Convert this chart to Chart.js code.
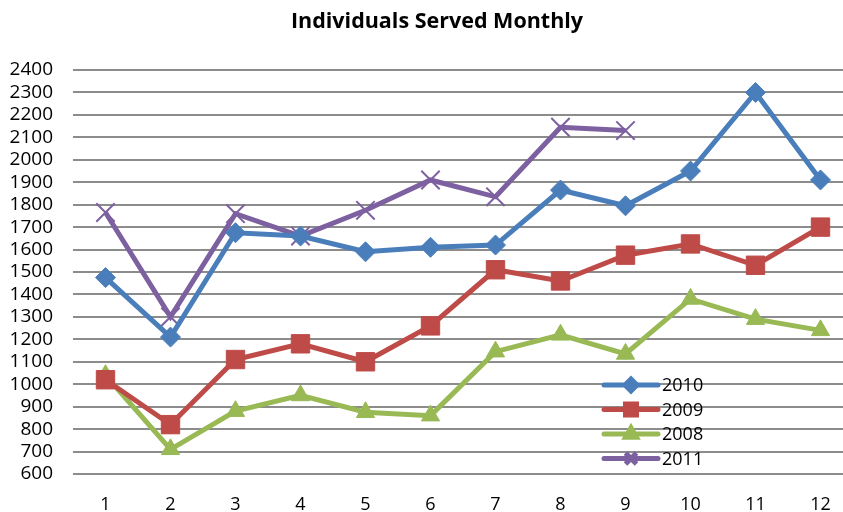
<!DOCTYPE html>
<html>
<head>
<meta charset="utf-8">
<script src="https://cdn.jsdelivr.net/npm/chart.js@4.4.1/dist/chart.umd.min.js"></script>
<style>
  html, body { margin: 0; padding: 0; background: #fff; overflow: hidden; }
  #wrap { width: 843px; height: 512px; overflow: hidden; }
  canvas { display: block; }
</style>
</head>
<body>
<div id="wrap"><canvas id="chart" width="853" height="512"></canvas></div>
<script>
const chartTitle = 'Individuals Served Monthly';
const months = ['1', '2', '3', '4', '5', '6', '7', '8', '9', '10', '11', '12'];
const served2010 = [1475, 1210, 1675, 1660, 1590, 1610, 1620, 1865, 1795, 1950, 2300, 1910];
const served2009 = [1020, 820, 1110, 1180, 1100, 1260, 1510, 1460, 1575, 1625, 1530, 1700];
const served2008 = [1040, 710, 880, 950, 875, 860, 1145, 1220, 1135, 1380, 1290, 1240];
const served2011 = [1765, 1300, 1760, 1660, 1775, 1910, 1835, 2145, 2130, null, null, null];

const FONT = "'Open Sans', 'Liberation Sans', sans-serif";

function series(label, data, color, style, radius) {
    return {
        label: label,
        data: data,
        borderColor: color,
        backgroundColor: color,
        borderWidth: 5,
        pointStyle: style,
        pointRadius: radius,
        pointBorderWidth: style === 'crossRot' ? 2 : 1,
        pointBorderColor: color,
        pointBackgroundColor: color,
        spanGaps: false,
        tension: 0
    };
}

// Title is centred over the visible page, not the (wider) canvas
const pageTitle = {
    id: 'pageTitle',
    afterDraw(chart) {
        const ctx = chart.ctx;
        ctx.save();
        ctx.fillStyle = '#000';
        ctx.font = 'bold 21.5px ' + FONT;
        ctx.textAlign = 'center';
        ctx.textBaseline = 'middle';
        ctx.fillText(chartTitle, 437, 22);
        ctx.restore();
    }
};

// Legend sits inside the plot, lower right
const insideLegend = {
    id: 'insideLegend',
    afterDraw(chart) {
        const ctx = chart.ctx;
        const x0 = 604, x1 = 658;
        const top = 385, step = 24.5;
        chart.data.datasets.forEach((ds, i) => {
            const y = top + i * step;
            ctx.save();
            ctx.strokeStyle = ds.borderColor;
            ctx.fillStyle = ds.borderColor;
            ctx.lineWidth = 5;
            ctx.lineCap = 'round';
            ctx.beginPath();
            ctx.moveTo(x0, y);
            ctx.lineTo(x1, y);
            ctx.stroke();
            ctx.lineCap = 'butt';
            Chart.helpers.drawPoint(ctx, {
                pointStyle: ds.pointStyle,
                radius: ds.pointRadius * 0.6,
                borderWidth: ds.pointBorderWidth
            }, (x0 + x1) / 2, y);
            ctx.fillStyle = '#000';
            ctx.font = '18px ' + FONT;
            ctx.textBaseline = 'middle';
            ctx.fillText(ds.label, x1 + 4, y + 1);
            ctx.restore();
        });
    }
};

new Chart(document.getElementById('chart'), {
    type: 'line',
    data: {
        labels: months,
        datasets: [
            series('2010', served2010, '#4A7EBB', 'rectRot', 10),
            series('2009', served2009, '#BE4B48', 'rect', 13),
            series('2008', served2008, '#98B954', 'triangle', 10.5),
            series('2011', served2011, '#7D60A0', 'crossRot', 13)
        ]
    },
    options: {
        responsive: false,
        animation: false,
        layout: { autoPadding: false, padding: { left: 0, right: 0, top: 70, bottom: 0 } },
        plugins: {
            legend: { display: false },
            tooltip: { enabled: false },
            title: { display: false }
        },
        scales: {
            x: {
                offset: true,
                grid: { display: false },
                border: { display: false },
                ticks: { color: '#000', font: { family: FONT, size: 18 }, padding: 12, maxRotation: 0 },
                afterFit(scale) {
                    scale.height = 38;
                    scale.paddingLeft = 0;
                    scale.paddingRight = 0;
                }
            },
            y: {
                min: 600,
                max: 2400,
                border: { display: false },
                grid: { color: '#8c8c8c', lineWidth: 2, drawTicks: false },
                ticks: {
                    stepSize: 100,
                    autoSkip: false,
                    color: '#000',
                    font: { family: FONT, size: 19 },
                    padding: 20,
                    callback: (v) => String(v)
                },
                afterFit(scale) {
                    scale.width = 73;
                    scale.paddingTop = 0;
                    scale.paddingBottom = 0;
                }
            }
        }
    },
    plugins: [pageTitle, insideLegend]
});
</script>
</body>
</html>
